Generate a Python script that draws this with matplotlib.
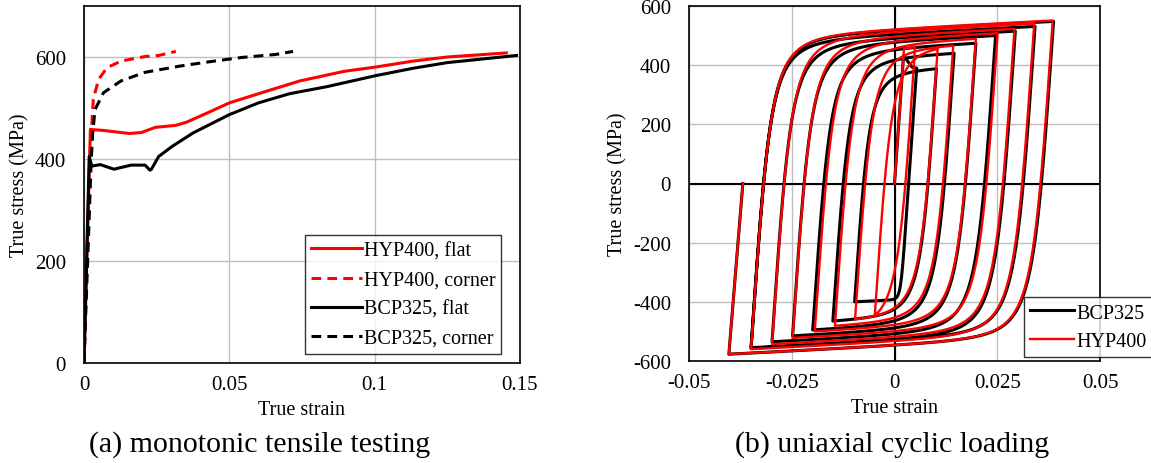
import matplotlib
matplotlib.use("Agg")
import matplotlib.pyplot as plt
import numpy as np

plt.rcParams['font.family'] = ['Liberation Serif', 'DejaVu Serif']
plt.rcParams['axes.unicode_minus'] = False

# ---- (a) monotonic tensile curves ----
hyp_flat_e = [0, 0.0022, 0.0067, 0.0156, 0.0198, 0.0245, 0.0316, 0.0352, 0.0423, 0.050,
              0.060, 0.0742, 0.0896, 0.100, 0.1133, 0.125, 0.1453]
hyp_flat_s = [0, 458, 456, 450, 452, 462, 466, 472, 490, 510, 528, 553, 572, 580, 592, 600, 608]

hyp_corner_e = [0, 0.002, 0.0032, 0.005, 0.0079, 0.0127, 0.021, 0.0257, 0.0316]
hyp_corner_s = [0, 400, 517, 556, 579, 592, 601, 603, 611]

bcp_flat_e = [0, 0.0018, 0.0026, 0.0056, 0.0103, 0.0162, 0.021, 0.0227, 0.0232, 0.0257,
              0.0304, 0.0375, 0.050, 0.060, 0.0707, 0.0837, 0.100, 0.1133, 0.125, 0.1488]
bcp_flat_s = [0, 405, 386, 389, 380, 388, 388, 378, 380, 405, 425, 451, 487, 510, 528, 542,
              563, 578, 589, 603]

bcp_corner_e = [0, 0.0025, 0.003, 0.0038, 0.0067, 0.0127, 0.021, 0.0328, 0.0423, 0.0541,
                0.066, 0.0719]
bcp_corner_s = [0, 400, 451, 497, 530, 553, 570, 582, 590, 599, 605, 611]

# ---- (b) cyclic loading: initial loading, reversal tips, final unloading ----
hyp_init_e = [0, 0.0023, 0.005]
hyp_init_s = [0, 455, 462]
hyp_tip_e = [0.005, -0.0048, 0.0105, -0.0096, 0.0143, -0.0145, 0.0198, -0.0194, 0.0251,
             -0.0248, 0.0292, -0.0298, 0.034, -0.0349, 0.0385, -0.0403]
hyp_tip_s = [462, -447, 455, -459, 466, -481, 489, -500, 508, -522, 523, -543, 540, -560,
             551, -577]
hyp_end_e = -0.0369

bcp_init_e = [0, 0.0022, 0.0043, 0.0054]
bcp_init_s = [0, 432, 393, 390]
bcp_tip_e = [0.0054, -0.0097, 0.0102, -0.015, 0.0145, -0.0199, 0.0198, -0.0248, 0.0246,
             -0.0298, 0.0294, -0.0349, 0.0342, -0.0349, 0.0387, -0.0403]
bcp_tip_s = [390, -400, 388, -465, 440, -495, 474, -515, 500, -535, 515, -555, 531, -557,
             548, -577]
bcp_end_e = -0.0369
bcp_sharp = [10]  # first reversal shows a sharp yield knee


def branch(e_r, s_r, e_t, s_t, R, E=200000.0, Eh=700.0, n=600):
    # Menegotto-Pinto shaped branch between two read reversal points
    e0 = (s_t - s_r + E * e_r - Eh * e_t) / (E - Eh)
    e = np.linspace(e_r, e_t, n)
    es = (e - e_r) / (e0 - e_r)
    b = Eh / E
    ss = b * es + (1 - b) * es / (1 + np.abs(es) ** R) ** (1.0 / R)
    s = s_r + (s_t - s_r) * ss / ss[-1]
    return e, s


def cyclic_path(init_e, init_s, tip_e, tip_s, end_e, r_first=2.5):
    ex = list(init_e)
    sx = list(init_s)
    for i in range(len(tip_e) - 1):
        R = r_first if i == 0 else 2.5
        e, s = branch(tip_e[i], tip_s[i], tip_e[i + 1], tip_s[i + 1], R)
        ex += list(e)
        sx += list(s)
    ex.append(end_e)
    sx.append(0)
    return ex, sx


fig = plt.figure(figsize=(11.51, 4.64), dpi=100)
ax1 = fig.add_axes([84 / 1151, 1 - 364 / 464, 436 / 1151, 357 / 464])
ax2 = fig.add_axes([689 / 1151, 1 - 362 / 464, 411 / 1151, 355 / 464])

fs = 15
grid_c = '#bfbfbf'

ax1.plot(hyp_flat_e, hyp_flat_s, color='#ff0000', lw=2.2, label='HYP400, flat', zorder=3)
ax1.plot(hyp_corner_e, hyp_corner_s, color='#ff0000', lw=2.2, ls=(0, (3.2, 2)),
         label='HYP400, corner', zorder=3)
ax1.plot(bcp_flat_e, bcp_flat_s, color='black', lw=2.2, label='BCP325, flat', zorder=3)
ax1.plot(bcp_corner_e, bcp_corner_s, color='black', lw=2.2, ls=(0, (3.2, 2)),
         label='BCP325, corner', zorder=3)
ax1.set_xlim(0, 0.15)
ax1.set_ylim(0, 700)
ax1.set_xticks([0, 0.05, 0.1, 0.15])
ax1.set_xticklabels(['0', '0.05', '0.1', '0.15'])
ax1.set_yticks([0, 200, 400, 600])
ax1.grid(True, color=grid_c, lw=1)
ax1.set_axisbelow(True)
ax1.set_xlabel('True strain', fontsize=14.5, labelpad=4)
ax1.set_ylabel('True stress (MPa)', fontsize=14.5, labelpad=4)
leg1 = ax1.legend(loc='lower right', bbox_to_anchor=(0.957, 0.025), fontsize=14.5,
                  frameon=True, fancybox=False, handlelength=2.5, handletextpad=0.1,
                  borderpad=0.3, labelspacing=0.5, borderaxespad=0)
leg1.get_frame().set_edgecolor('black')
leg1.get_frame().set_linewidth(1)

bx, bs = cyclic_path(bcp_init_e, bcp_init_s, bcp_tip_e, bcp_tip_s, bcp_end_e, bcp_sharp[0])
hx, hs = cyclic_path(hyp_init_e, hyp_init_s, hyp_tip_e, hyp_tip_s, hyp_end_e)
ax2.plot(bx, bs, color='black', lw=2.2, label='BCP325', zorder=3)
ax2.plot(hx, hs, color='#ff0000', lw=1.7, label='HYP400', zorder=4)
ax2.axhline(0, color='black', lw=1.5, zorder=2)
ax2.axvline(0, color='black', lw=1.5, zorder=2)
ax2.set_xlim(-0.05, 0.05)
ax2.set_ylim(-600, 600)
ax2.set_xticks([-0.05, -0.025, 0, 0.025, 0.05])
ax2.set_xticklabels(['-0.05', '-0.025', '0', '0.025', '0.05'])
ax2.set_yticks([-600, -400, -200, 0, 200, 400, 600])
ax2.grid(True, color=grid_c, lw=1)
ax2.set_axisbelow(True)
ax2.set_xlabel('True strain', fontsize=14.5, labelpad=4)
ax2.set_ylabel('True stress (MPa)', fontsize=14.5, labelpad=4)
leg2 = ax2.legend(loc='lower left', bbox_to_anchor=(0.815, 0.012), fontsize=14.5,
                  frameon=True, fancybox=False, handlelength=2.2, handletextpad=0.1,
                  borderpad=0.3, labelspacing=0.45, borderaxespad=0)
leg2.get_frame().set_edgecolor('black')
leg2.get_frame().set_linewidth(1)

for ax in (ax1, ax2):
    ax.tick_params(axis='x', length=0, labelsize=fs, pad=9)
    ax.tick_params(axis='y', length=0, labelsize=fs, pad=13)
    for sp in ax.spines.values():
        sp.set_color('black')
        sp.set_linewidth(1.2)

fig.text(260 / 1151, 1 - 445 / 464, '(a) monotonic tensile testing', fontsize=21.5,
         ha='center', va='center')
fig.text(892 / 1151, 1 - 445 / 464, '(b) uniaxial cyclic loading', fontsize=21.5,
         ha='center', va='center')

fig.savefig('out.png', dpi=100)
